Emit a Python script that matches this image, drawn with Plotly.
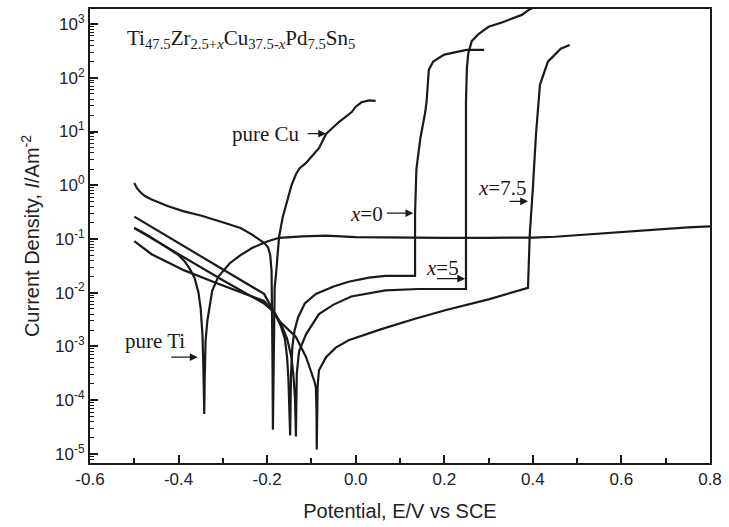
import plotly.graph_objects as go

# ---------------- data ----------------
ti_x = [-0.5, -0.47, -0.425, -0.40, -0.387, -0.375, -0.364, -0.355, -0.35, -0.346, -0.344, -0.343,
        -0.342, -0.341, -0.339, -0.335, -0.324, -0.31, -0.285, -0.26, -0.234, -0.2, -0.173, -0.12,
        -0.067, 0.0, 0.1, 0.2, 0.3, 0.4, 0.45, 0.5, 0.55, 0.6, 0.65, 0.7, 0.75, 0.8]
ti_i = [0.16, 0.118, 0.068, 0.05, 0.039, 0.028, 0.019, 0.010, 0.005, 1.6e-3, 4e-4, 1.3e-4,
        5.5e-5, 2.5e-4, 1.3e-3, 3e-3, 0.011, 0.02, 0.035, 0.05, 0.068, 0.09, 0.105, 0.112,
        0.115, 0.108, 0.105, 0.105, 0.105, 0.106, 0.11, 0.118, 0.127, 0.137, 0.147, 0.156, 0.164, 0.172]

cu_x = [-0.5, -0.494, -0.486, -0.476, -0.462, -0.45, -0.425, -0.39, -0.348, -0.297, -0.26, -0.236,
        -0.207, -0.198, -0.193, -0.19, -0.189, -0.188, -0.187, -0.186, -0.185, -0.183, -0.18, -0.177,
        -0.173, -0.165, -0.157, -0.145, -0.135, -0.127, -0.12, -0.112, -0.1, -0.083, -0.067, -0.038,
        -0.009, 0.0, 0.013, 0.03, 0.045]
cu_i = [1.1, 0.88, 0.74, 0.63, 0.55, 0.5, 0.41, 0.33, 0.27, 0.2, 0.16, 0.123,
        0.085, 0.07, 0.05, 0.025, 6.3e-3, 6.3e-4, 2.8e-5, 3.2e-4, 2.5e-3, 0.0126, 0.022, 0.05,
        0.11, 0.25, 0.45, 1.0, 1.6, 2.05, 2.3, 2.6, 3.4, 4.9, 9.0, 15.0,
        23.0, 29.0, 35.0, 38.0, 37.0]

x0_x = [-0.5, -0.4, -0.3, -0.207, -0.184, -0.17, -0.16, -0.155, -0.152, -0.15, -0.148, -0.147,
        -0.146, -0.143, -0.138, -0.13, -0.115, -0.09, -0.05, -0.016, 0.03, 0.067, 0.134, 0.134,
        0.134, 0.137, 0.146, 0.157, 0.16, 0.163, 0.165, 0.175, 0.2, 0.25, 0.29]
x0_i = [0.26, 0.083, 0.027, 9.5e-3, 4.3e-3, 2.5e-3, 1.4e-3, 6.3e-4, 2.5e-4, 1e-4, 2.2e-5, 1e-4,
        3.2e-4, 1e-3, 2e-3, 3.5e-3, 6.3e-3, 9.5e-3, 0.013, 0.016, 0.019, 0.0205, 0.0205, 0.1,
        0.29, 2.0, 7.5, 23.0, 36.0, 80.0, 140.0, 200.0, 270.0, 330.0, 330.0]

x5_x = [-0.5, -0.4, -0.3, -0.207, -0.184, -0.17, -0.155, -0.145, -0.14, -0.137, -0.135, -0.134,
        -0.133, -0.128, -0.112, -0.083, -0.05, -0.01, 0.067, 0.142, 0.249, 0.249, 0.251, 0.254,
        0.262, 0.278, 0.30, 0.33, 0.35, 0.375, 0.39, 0.40]
x5_i = [0.16, 0.052, 0.017, 6.3e-3, 4.3e-3, 2.8e-3, 1.4e-3, 6.3e-4, 2.5e-4, 1e-4, 2.1e-5, 1e-4,
        3.2e-4, 8e-4, 1.7e-3, 4e-3, 6e-3, 8.5e-3, 0.011, 0.0117, 0.0117, 36.0, 148.0, 280.0,
        480.0, 660.0, 890.0, 1070.0, 1230.0, 1480.0, 1820.0, 2000.0]

x75_x = [-0.5, -0.461, -0.387, -0.312, -0.207, -0.184, -0.173, -0.135, -0.112, -0.096, -0.093, -0.09,
         -0.0885, -0.088, -0.0875, -0.086, -0.083, -0.067, -0.045, -0.016, 0.058, 0.13, 0.202, 0.3,
         0.389, 0.393, 0.40, 0.407, 0.416, 0.434, 0.463, 0.483]
x75_i = [0.091, 0.052, 0.026, 0.0148, 7e-3, 4.3e-3, 3e-3, 1.5e-3, 6.3e-4, 2.8e-4, 2.2e-4, 1.7e-4,
         6.3e-5, 1.2e-5, 6.3e-5, 1.8e-4, 3.6e-4, 6.3e-4, 9.5e-4, 1.3e-3, 2.1e-3, 3.2e-3, 4.7e-3, 7.5e-3,
         0.0123, 0.123, 0.87, 8.7, 74.0, 200.0, 347.0, 407.0]

x_ticks = [-0.6, -0.4, -0.2, 0.0, 0.2, 0.4, 0.6, 0.8]
x_tick_text = ["-0.6", "-0.4", "-0.2", "0.0", "0.2", "0.4", "0.6", "0.8"]
y_tick_exp = [-5, -4, -3, -2, -1, 0, 1, 2, 3]

# ---------------- figure ----------------
line_style = dict(color="#1a1a1a", width=2.2)
fig = go.Figure()
for xs, ys in [(ti_x, ti_i), (cu_x, cu_i), (x0_x, x0_i), (x5_x, x5_i), (x75_x, x75_i)]:
    fig.add_trace(go.Scatter(x=xs, y=ys, mode="lines", line=line_style,
                             showlegend=False, hoverinfo="skip"))

serif = "Liberation Serif, Times New Roman, serif"
sans = "Liberation Sans, Arial, Helvetica, sans-serif"

ann = []
ann.append(dict(x=-0.521, y=2.72, xref="x", yref="y", xanchor="left", yanchor="middle",
                showarrow=False, font=dict(family=serif, size=21, color="#1a1a1a"),
                text="Ti<sub>47.5</sub>Zr<sub>2.5+<i>x</i></sub>Cu<sub>37.5-<i>x</i></sub>"
                     "Pd<sub>7.5</sub>Sn<sub>5</sub>"))
labels = [("pure Cu", -0.202, 0.96), ("<i>x</i>=0", 0.025, -0.54), ("<i>x</i>=5", 0.196, -1.54),
          ("<i>x</i>=7.5", 0.33, -0.06), ("pure Ti", -0.454, -2.89)]
for t, xx, yy in labels:
    ann.append(dict(x=xx, y=yy, xref="x", yref="y", text=t, showarrow=False,
                    font=dict(family=serif, size=21, color="#1a1a1a")))
arrows = [(-0.112, -0.067, 0.96), (0.067, 0.13, -0.52), (0.18, 0.247, -1.74),
          (0.344, 0.389, -0.30), (-0.42, -0.357, -3.2)]
for x1, x2, yy in arrows:
    ann.append(dict(x=x2, y=yy, ax=x1, ay=yy, xref="x", yref="y", axref="x", ayref="y",
                    text="", showarrow=True, arrowhead=2, arrowsize=1.2, arrowwidth=1.3,
                    arrowcolor="#1a1a1a"))

fig.update_layout(
    width=729, height=527,
    margin=dict(l=90, r=16, t=7, b=64),
    paper_bgcolor="white", plot_bgcolor="white",
    annotations=ann,
    font=dict(family=sans, color="#222222"),
)
fig.update_xaxes(
    range=[-0.6, 0.8], showgrid=False, zeroline=False,
    showline=True, linecolor="#1a1a1a", linewidth=2, mirror=True,
    ticks="inside", ticklen=8, tickwidth=1.5, tickcolor="#1a1a1a",
    tickvals=x_ticks, ticktext=x_tick_text, tickfont=dict(size=17, family=sans),
    minor=dict(ticks="inside", ticklen=5, tickwidth=1.5, tickcolor="#1a1a1a", dtick=0.1),
    title=dict(text="Potential, E/V vs SCE", font=dict(size=20, family=sans), standoff=16),
)
fig.update_yaxes(
    type="log", range=[-5.17, 3.28], showgrid=False, zeroline=False,
    showline=True, linecolor="#1a1a1a", linewidth=2, mirror=True,
    ticks="inside", ticklen=8, tickwidth=1.5, tickcolor="#1a1a1a",
    tickvals=[10.0 ** e for e in y_tick_exp],
    ticktext=["10<sup>%d</sup>" % e for e in y_tick_exp],
    tickfont=dict(size=17, family=sans),
    minor=dict(ticks="inside", ticklen=4, tickwidth=1.2, tickcolor="#1a1a1a", dtick="D1"),
    title=dict(text="Current Density, <i>I</i>/Am<sup>-2</sup>", font=dict(size=20, family=sans),
               standoff=10),
)

fig.write_html("out.html")
